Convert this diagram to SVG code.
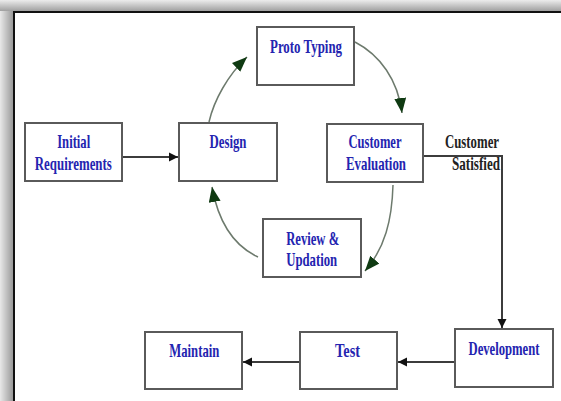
<svg xmlns="http://www.w3.org/2000/svg" width="561" height="401" viewBox="0 0 561 401">
<defs>
<linearGradient id="shL" x1="0" y1="0" x2="1" y2="0">
<stop offset="0" stop-color="#e8e8e8"/><stop offset="1" stop-color="#9a9a9a"/>
</linearGradient>
<linearGradient id="shT" x1="0" y1="0" x2="0" y2="1">
<stop offset="0" stop-color="#ececec"/><stop offset="1" stop-color="#a0a0a0"/>
</linearGradient>
<marker id="blk" markerUnits="userSpaceOnUse" markerWidth="10" markerHeight="10" refX="9" refY="5" orient="auto">
<path d="M0,0.5 L9,5 L0,9.5 z" fill="#111"/>
</marker>
<marker id="grn" markerUnits="userSpaceOnUse" markerWidth="16" markerHeight="14" refX="15" refY="6" orient="auto">
<path d="M0,0 L15,6 L0,12 z" fill="#0f3a12"/>
</marker>
<style>
.box{fill:#fff;stroke:#5a5a5a;stroke-width:2}
.t{font-family:"Liberation Serif","Times New Roman",serif;font-size:19px;font-weight:bold;fill:#2424b0;text-anchor:middle}
.lb{font-family:"Liberation Serif","Times New Roman",serif;font-size:19px;font-weight:bold;fill:#222;text-anchor:middle}
.ln{fill:none;stroke:#3c3c3c;stroke-width:2}
.cv{fill:none;stroke:#6d7a6d;stroke-width:1.5}
</style>
</defs>
<rect x="0" y="0" width="561" height="401" fill="#fff"/>
<rect x="0" y="0" width="13" height="401" fill="url(#shL)"/>
<rect x="0" y="0" width="561" height="11" fill="url(#shT)"/>
<path d="M14,401 L14,12 L561,12" fill="none" stroke="#111" stroke-width="2"/>

<g id="connectors">
<path class="ln" d="M122,157 L178,157" marker-end="url(#blk)"/>
<path class="ln" d="M423,156 L502,156 L502,328" marker-end="url(#blk)"/>
<path class="ln" d="M455,362 L398,362" marker-end="url(#blk)"/>
<path class="ln" d="M300,362 L243,362" marker-end="url(#blk)"/>
<path class="cv" d="M209,122 C214,100 228,75 247,57" marker-end="url(#grn)"/>
<path class="cv" d="M355,42 C380,55 398,80 402,113" marker-end="url(#grn)"/>
<path class="cv" d="M393,185 C392,220 385,248 365,271" marker-end="url(#grn)"/>
<path class="cv" d="M258,257 C232,245 218,220 212,187" marker-end="url(#grn)"/>
</g>

<g id="initial">
<rect class="box" x="25" y="123" width="97" height="58"/>
<text class="t" x="73.7" y="148" textLength="33" lengthAdjust="spacingAndGlyphs">Initial</text>
<text class="t" x="73.3" y="170" textLength="77" lengthAdjust="spacingAndGlyphs">Requirements</text>
</g>
<g id="design">
<rect class="box" x="179" y="123" width="98" height="58"/>
<text class="t" x="228" y="148" textLength="37" lengthAdjust="spacingAndGlyphs">Design</text>
</g>
<g id="proto">
<rect class="box" x="257" y="27" width="97" height="58"/>
<text class="t" x="306" y="53" textLength="72" lengthAdjust="spacingAndGlyphs">Proto Typing</text>
</g>
<g id="evaluation">
<rect class="box" x="327" y="124" width="96" height="58"/>
<text class="t" x="375" y="148" textLength="53" lengthAdjust="spacingAndGlyphs">Customer</text>
<text class="t" x="376" y="170" textLength="60" lengthAdjust="spacingAndGlyphs">Evaluation</text>
</g>
<g id="review">
<rect class="box" x="263" y="219" width="98" height="58"/>
<text class="t" x="312.7" y="245" textLength="53" lengthAdjust="spacingAndGlyphs">Review &amp;</text>
<text class="t" x="311.7" y="266" textLength="51" lengthAdjust="spacingAndGlyphs">Updation</text>
</g>
<g id="development">
<rect class="box" x="455" y="329" width="98" height="58"/>
<text class="t" transform="translate(504,355) scale(0.667,1)" x="0" y="0">Development</text>
</g>
<g id="test">
<rect class="box" x="300" y="332" width="97" height="57"/>
<text class="t" x="347.5" y="357" textLength="25" lengthAdjust="spacingAndGlyphs">Test</text>
</g>
<g id="maintain">
<rect class="box" x="145" y="332" width="97" height="57"/>
<text class="t" x="194.3" y="357" textLength="50" lengthAdjust="spacingAndGlyphs">Maintain</text>
</g>
<g id="label">
<text class="lb" x="472" y="148" textLength="54" lengthAdjust="spacingAndGlyphs">Customer</text>
<text class="lb" x="476" y="170" textLength="48" lengthAdjust="spacingAndGlyphs">Satisfied</text>
</g>
</svg>
